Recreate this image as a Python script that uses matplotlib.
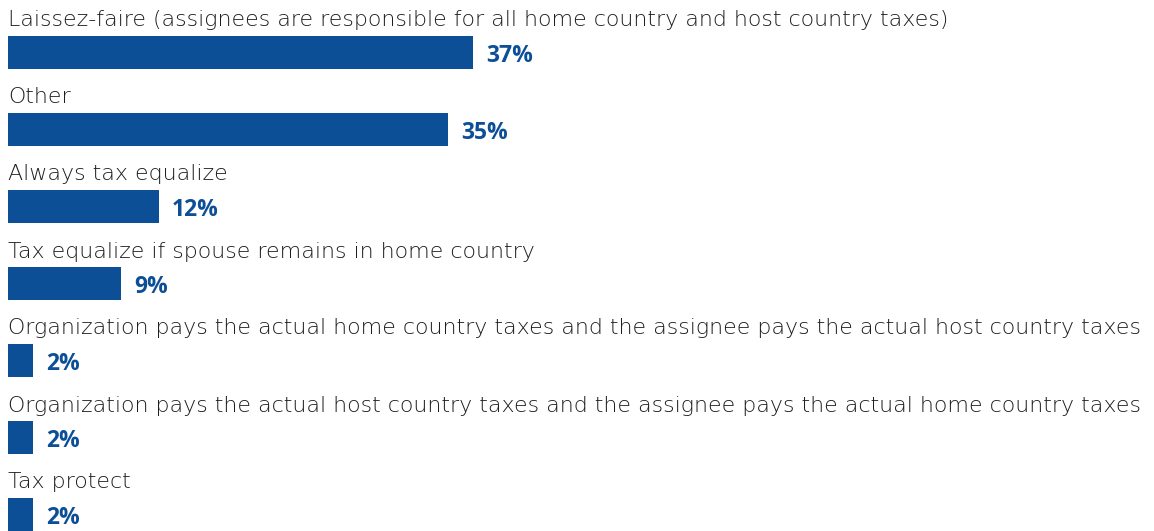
import matplotlib
matplotlib.use("Agg")
import matplotlib.pyplot as plt

categories = [
    "Laissez-faire (assignees are responsible for all home country and host country taxes)",
    "Other",
    "Always tax equalize",
    "Tax equalize if spouse remains in home country",
    "Organization pays the actual home country taxes and the assignee pays the actual host country taxes",
    "Organization pays the actual host country taxes and the assignee pays the actual home country taxes",
    "Tax protect",
]
values = [37, 35, 12, 9, 2, 2, 2]
value_labels = ["37%", "35%", "12%", "9%", "2%", "2%", "2%"]

BAR = "#0c4f97"
TXT = "#1e1e1e"

W, H = 1154, 531
fig = plt.figure(figsize=(W / 100, H / 100), dpi=100)
x0_px = 8
px_per_unit = (473 - 8) / 37.0
row_px = 77.0
first_center_px = 52.5
ax = fig.add_axes([x0_px / W, 0, 1 - x0_px / W, 1])
ax.set_xlim(0, (W - x0_px) / px_per_unit)
ax.set_ylim((H - first_center_px) / row_px, -first_center_px / row_px)
ax.axis("off")

ys = list(range(len(categories)))
ax.barh(ys, values, height=33 / row_px, color=BAR, left=0)
for y, cat, v, lab in zip(ys, categories, values, value_labels):
    ax.text(0, y - 26 / row_px, cat, fontsize=15.95, color=TXT,
            family="DejaVu Sans", fontweight="light", va="baseline", ha="left")
    ax.text(v + 13 / px_per_unit, y + 9.5 / row_px, lab, fontsize=16.5,
            color=BAR, family="Open Sans", fontweight="bold", va="baseline", ha="left")

fig.savefig("out.png", dpi=100)
